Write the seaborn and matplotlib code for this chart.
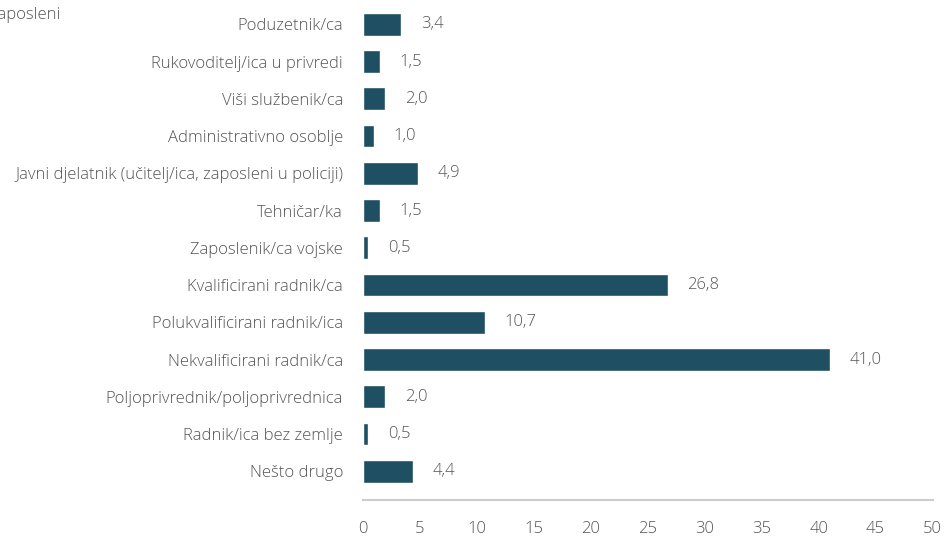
import pandas as pd
import matplotlib.pyplot as plt
import seaborn as sns

# Zaposleni - share by occupation (%)
categories = [
    'Poduzetnik/ca',
    'Rukovoditelj/ica u privredi',
    'Viši službenik/ca',
    'Administrativno osoblje',
    'Javni djelatnik (učitelj/ica, zaposleni u policiji)',
    'Tehničar/ka',
    'Zaposlenik/ca vojske',
    'Kvalificirani radnik/ca',
    'Polukvalificirani radnik/ica',
    'Nekvalificirani radnik/ca',
    'Poljoprivrednik/poljoprivrednica',
    'Radnik/ica bez zemlje',
    'Nešto drugo',
]
values = [3.4, 1.5, 2.0, 1.0, 4.9, 1.5, 0.5, 26.8, 10.7, 41.0, 2.0, 0.5, 4.4]
x_ticks = [0, 5, 10, 15, 20, 25, 30, 35, 40, 45, 50]

df = pd.DataFrame({'kategorija': categories, 'vrijednost': values})

sns.set_style('white')
plt.rcParams['font.family'] = ['Open Sans', 'DejaVu Sans']

bar_color = '#1f4f62'
text_color = '#555555'
fs = 12

fig = plt.figure(figsize=(9.52, 5.38), dpi=100)
ax = fig.add_axes([0.3808, 0.0706, 0.5988, 0.9294])

sns.barplot(data=df, y='kategorija', x='vrijednost', orient='h',
            color=bar_color, width=0.61, saturation=1, ax=ax)

# value labels with decimal comma
for i, v in enumerate(values):
    ax.annotate(f'{v:.1f}'.replace('.', ','), xy=(v, i), xytext=(14, 0),
                textcoords='offset points', va='center', ha='left',
                fontsize=fs, color=text_color, fontweight='light')

ax.set_xlim(0, 50)
ax.set_ylim(12.77, -0.652)
ax.set_xticks(x_ticks)
ax.set_xticklabels([str(t) for t in x_ticks])
ax.set_xlabel('')
ax.set_ylabel('')

for s in ['top', 'right', 'left']:
    ax.spines[s].set_visible(False)
ax.spines['bottom'].set_color('#cccccc')
ax.spines['bottom'].set_linewidth(1.5)

ax.tick_params(axis='x', length=9, width=1.2, color='#cccccc', pad=6,
               labelsize=fs, labelcolor=text_color)
ax.tick_params(axis='y', length=0, pad=14, labelsize=fs,
               labelcolor=text_color)
for lbl in ax.get_xticklabels() + ax.get_yticklabels():
    lbl.set_fontweight('light')

# title sits partly off the left edge, as in the source layout
fig.text(-0.0125, 0.972, 'Zaposleni', fontsize=fs, color=text_color,
         fontweight='light', ha='left', va='center')

fig.savefig('out.png', dpi=100)
